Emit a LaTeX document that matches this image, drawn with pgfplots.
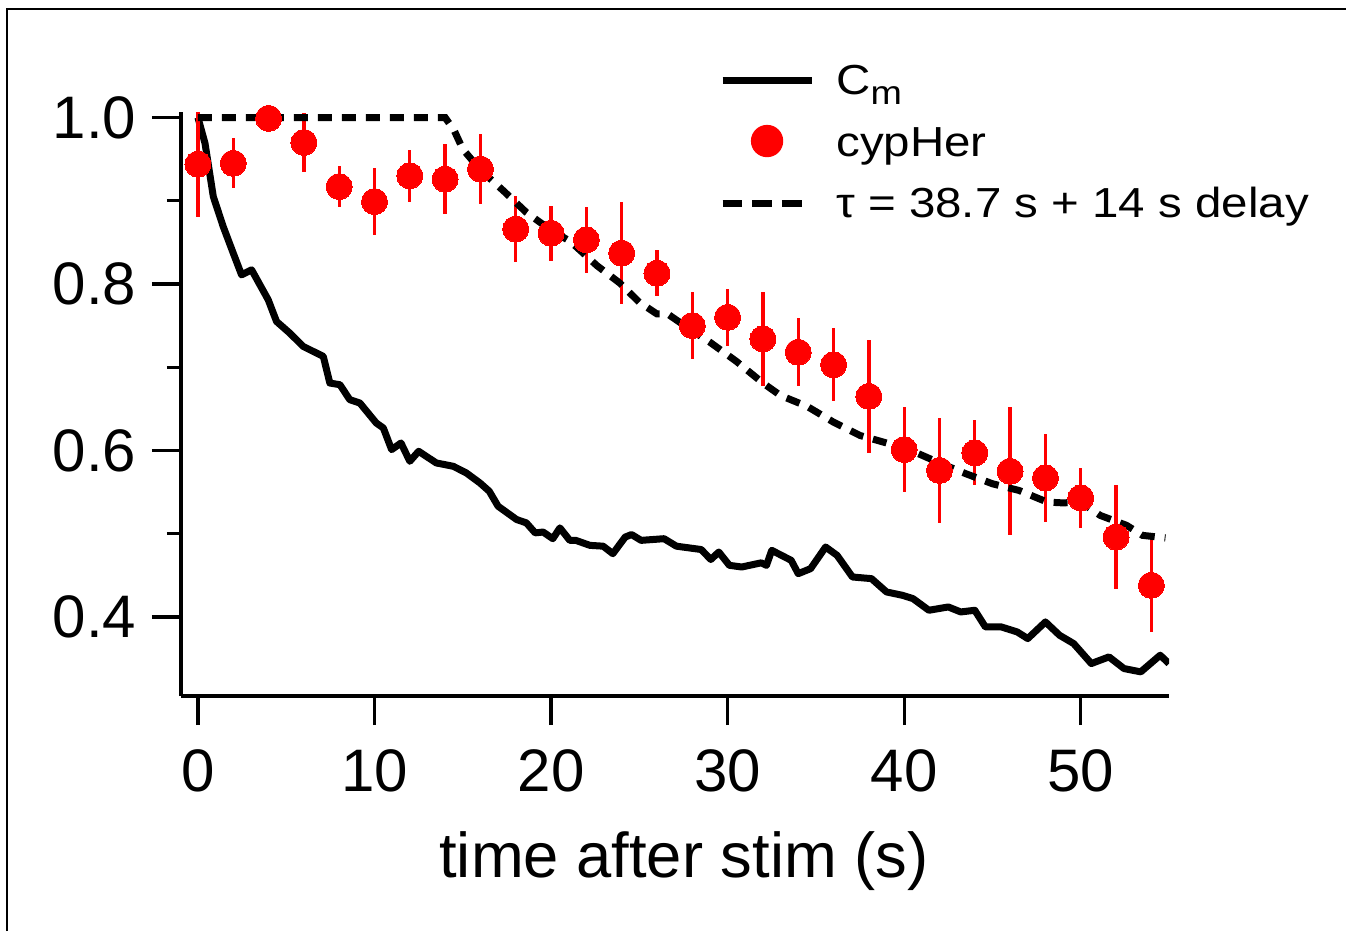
\documentclass[border=0pt]{standalone}
\usepackage{fontspec}
\setmainfont{Liberation Sans}
\newfontfamily\legfont[FakeStretch=1.13]{Liberation Sans}
\usepackage{pgfplots}
\pgfplotsset{compat=1.18}
\usepackage{pgfplotstable}

\pgfplotstableread{
x y
0 1.0
0.4 0.969
0.87 0.905
1.43 0.869
2.0 0.837
2.47 0.811
3.04 0.817
3.98 0.781
4.45 0.755
5.2 0.741
5.96 0.725
7.1 0.713
7.47 0.681
8.04 0.679
8.6 0.661
9.17 0.657
10.1 0.633
10.5 0.627
10.97 0.601
11.5 0.609
12.0 0.587
12.5 0.599
13.5 0.585
14.46 0.581
15.2 0.573
15.97 0.561
16.5 0.551
17.0 0.533
18.05 0.517
18.6 0.513
19.1 0.501
19.55 0.502
20.1 0.494
20.5 0.507
21.06 0.492
21.4 0.492
22.2 0.486
22.95 0.485
23.5 0.476
24.2 0.496
24.56 0.499
25.1 0.492
26.4 0.494
27.1 0.485
28.5 0.481
29.05 0.469
29.5 0.478
30.1 0.462
30.8 0.460
31.9 0.465
32.2 0.462
32.5 0.480
33.6 0.468
34.0 0.452
34.7 0.458
35.55 0.484
36.2 0.474
37.07 0.448
38.15 0.446
39.0 0.430
39.9 0.426
40.5 0.422
41.4 0.408
42.5 0.412
43.2 0.406
44.0 0.408
44.6 0.388
45.5 0.388
46.4 0.382
47.0 0.374
48.0 0.394
48.8 0.378
49.6 0.368
50.6 0.344
51.6 0.352
52.45 0.338
53.4 0.334
54.5 0.354
55.0 0.344
}\cmdata

\pgfplotstableread{
x y e
0 0.944 0.063
2 0.945 0.030
4 0.999 0.010
6 0.970 0.035
8 0.917 0.025
10 0.899 0.040
12 0.930 0.031
14 0.926 0.042
16 0.938 0.042
18 0.866 0.040
20 0.861 0.033
22 0.853 0.040
24 0.837 0.061
26 0.813 0.028
28 0.750 0.040
30 0.760 0.034
32 0.734 0.056
34 0.718 0.041
36 0.703 0.044
38 0.665 0.068
40 0.601 0.051
42 0.576 0.063
44 0.597 0.039
46 0.575 0.077
48 0.567 0.053
50 0.543 0.036
52 0.496 0.062
54 0.438 0.056
}\cypdata

\pgfplotstableread{
x y
0 1.0
14 1.0
14.5 0.985
15 0.962
16 0.937
17.3 0.912
18.6 0.886
19.9 0.866
21.1 0.851
22.6 0.822
23.9 0.801
25.0 0.778
26.0 0.764
26.6 0.764
27.7 0.748
29.0 0.730
30.5 0.707
32.0 0.681
33.0 0.666
34.5 0.653
36.0 0.634
37.5 0.618
39.0 0.609
40.5 0.599
42.0 0.585
43.5 0.572
45.0 0.560
46.5 0.552
48.1 0.538
49.0 0.537
50.0 0.538
51.1 0.522
52.6 0.510
53.5 0.498
54.8 0.495
}\fitdata

\begin{document}
\begin{tikzpicture}
\useasboundingbox (-54.3pt,-70.5pt) rectangle (349.5pt,208.8pt);
\begin{axis}[
  scale only axis, width=296.4pt, height=175.2pt,
  xmin=-0.96, xmax=55, ymin=0.305, ymax=1.0066,
  axis lines=left, axis line style={-, line width=1pt},
  tick align=outside, tick style={black, line width=1pt},
  major tick length=8.7pt, minor tick length=4.2pt,
  xtick={0,10,20,30,40,50}, xticklabels={0,10,20,30,40,50},
  ytick={0.4,0.6,0.8,1.0}, yticklabels={0.4,0.6,0.8,1.0},
  minor ytick={0.5,0.7,0.9},
  ticklabel style={font=\fontsize{18}{18}\selectfont, inner sep=0pt},
  yticklabel style={xshift=-4.5pt},
  xticklabel style={yshift=-7.2pt},
  xlabel={time after stim (s)},
  xlabel style={font=\fontsize{19}{19}\selectfont, at={(axis description cs:0.509,-0.3116)}, anchor=base, inner sep=0pt},
  legend style={draw=none, fill=none, inner sep=0pt, outer sep=0pt,
    at={(0.5446,1.0953)}, anchor=north west, row sep=3.4pt, column sep=4.4pt,
    font=\legfont\fontsize{12.6}{14}\selectfont,
    cells={anchor=base west, inner sep=0pt, text height=9.5pt, text depth=3pt}},
]
\addplot[black, line width=2.1pt, line join=round,
  legend image code/.code={\draw[black, line width=2.1pt] (0pt,4.3pt) -- (26.7pt,4.3pt);}]
  table[x=x, y=y] {\cmdata};
\addlegendentry{C\raisebox{-3pt}{\legfont\fontsize{10}{10}\selectfont m}}

\addplot[only marks, mark=*, mark size=3.9pt, red, mark options={draw=red, fill=red, line width=0pt},
  legend image code/.code={\fill[red] (13.35pt,4.5pt) circle[radius=4.65pt];},
  error bars/.cd, y dir=both, y explicit, error mark=none, error bar style={line width=1pt, red}]
  table[x=x, y=y, y error=e] {\cypdata};
\addlegendentry{cypHer}

\addplot[black, line width=2.1pt, dash pattern=on 4.2pt off 3pt,
  legend image code/.code={\draw[black, line width=2.1pt, dash pattern=on 5.9pt off 3pt] (0pt,4.3pt) -- (23.7pt,4.3pt);}]
  table[x=x, y=y] {\fitdata};
\addlegendentry{τ = 38.7 s + 14 s delay}
\end{axis}
\draw[line width=0.6pt] (-52.2pt,-70.5pt) -- (-52.2pt,206.1pt) -- (349.5pt,206.1pt);
\end{tikzpicture}
\end{document}
